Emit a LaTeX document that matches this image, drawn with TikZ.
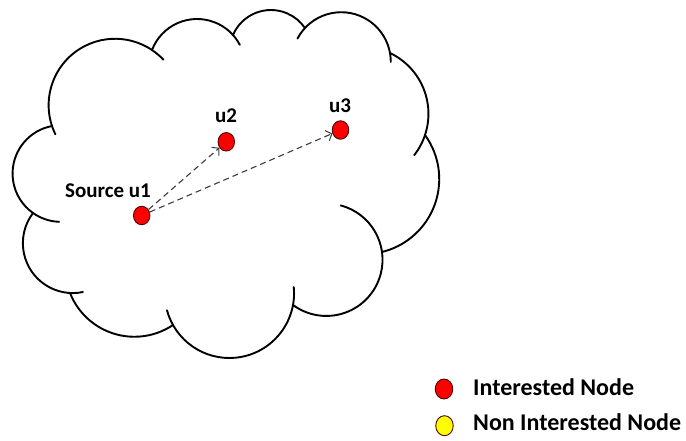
\documentclass[tikz,border=0pt]{standalone}
\usepackage{fontspec}
\setmainfont{Carlito}
\usetikzlibrary{arrows.meta,shapes.geometric}

\definecolor{nodered}{RGB}{255,0,0}
\definecolor{nodeedge}{RGB}{80,0,0}
\definecolor{nodeyellow}{RGB}{255,255,0}
\definecolor{linkgray}{RGB}{60,60,60}

\tikzset{
  cloudline/.style={draw=black, line width=1.9pt, line cap=round},
  dot/.style={ellipse, draw=nodeedge, line width=0.9pt, inner sep=0pt,
              minimum width=16.5, minimum height=18.5},
  rednode/.style={dot, fill=nodered},
  yellownode/.style={dot, fill=nodeyellow},
  lbl/.style={inner sep=0pt, font=\fontsize{21}{25}\selectfont\bfseries},
  lgd/.style={inner sep=0pt, font=\fontsize{24}{28}\selectfont\bfseries},
  link/.style={draw=linkgray, line width=1.1pt, dash pattern=on 6pt off 4pt,
               -{Straight Barb[length=5pt,width=11pt,line width=1pt]}}
}

% One bulge of the cloud: circular arc from (#1,#2) through (#3,#4) to (#5,#6),
% prolonged by #7 units before its start and #8 units after its end.
\newcommand\cloudlobe[8]{%
  \pgfmathsetmacro\lobeAx{#1/100}\pgfmathsetmacro\lobeAy{#2/100}%
  \pgfmathsetmacro\lobePx{#3/100}\pgfmathsetmacro\lobePy{#4/100}%
  \pgfmathsetmacro\lobeBx{#5/100}\pgfmathsetmacro\lobeBy{#6/100}%
  \pgfmathsetmacro\lobeD{2*(\lobeAx*(\lobePy-\lobeBy)+\lobePx*(\lobeBy-\lobeAy)+\lobeBx*(\lobeAy-\lobePy))}%
  \pgfmathsetmacro\lobeSa{\lobeAx*\lobeAx+\lobeAy*\lobeAy}%
  \pgfmathsetmacro\lobeSp{\lobePx*\lobePx+\lobePy*\lobePy}%
  \pgfmathsetmacro\lobeSb{\lobeBx*\lobeBx+\lobeBy*\lobeBy}%
  \pgfmathsetmacro\lobeUx{(\lobeSa*(\lobePy-\lobeBy)+\lobeSp*(\lobeBy-\lobeAy)+\lobeSb*(\lobeAy-\lobePy))/\lobeD}%
  \pgfmathsetmacro\lobeUy{(\lobeSa*(\lobeBx-\lobePx)+\lobeSp*(\lobeAx-\lobeBx)+\lobeSb*(\lobePx-\lobeAx))/\lobeD}%
  \pgfmathsetmacro\lobeCx{100*\lobeUx}\pgfmathsetmacro\lobeCy{100*\lobeUy}%
  \pgfmathsetmacro\lobeR{100*veclen(\lobeAx-\lobeUx,\lobeAy-\lobeUy)}%
  \pgfmathsetmacro\lobeTA{atan2(\lobeAy-\lobeUy,\lobeAx-\lobeUx)}%
  \pgfmathsetmacro\lobeTP{atan2(\lobePy-\lobeUy,\lobePx-\lobeUx)}%
  \pgfmathsetmacro\lobeTB{atan2(\lobeBy-\lobeUy,\lobeBx-\lobeUx)}%
  \pgfmathsetmacro\lobeDP{Mod(\lobeTP-\lobeTA,360)}%
  \pgfmathsetmacro\lobeDB{Mod(\lobeTB-\lobeTA,360)}%
  \pgfmathsetmacro\lobeSign{\lobeDP<\lobeDB ? 1 : -1}%
  \pgfmathsetmacro\lobeSweep{\lobeSign>0 ? \lobeDB : 360-\lobeDB}%
  \pgfmathsetmacro\lobeExA{deg(#7/\lobeR)}%
  \pgfmathsetmacro\lobeExB{deg(#8/\lobeR)}%
  \pgfmathsetmacro\lobeStart{\lobeTA-\lobeSign*\lobeExA}%
  \pgfmathsetmacro\lobeDelta{\lobeSign*(\lobeSweep+\lobeExA+\lobeExB)}%
  \draw[cloudline] ([shift={(\lobeStart:\lobeR)}]\lobeCx,\lobeCy)
    arc[start angle=\lobeStart, delta angle=\lobeDelta, radius=\lobeR];%
}

\begin{document}
\begin{tikzpicture}[x=1pt,y=-1pt]
  \fill[white] (0,0) rectangle (686,441);
  \useasboundingbox (0,0) rectangle (686,441);

  % cloud outline, clockwise from the upper left
  \cloudlobe{52}{126}{83}{47}{152}{50}{9}{15}
  \cloudlobe{152}{50}{197}{19}{233}{35}{0}{12}
  \cloudlobe{233}{35}{270}{10}{305}{28}{0}{0}
  \cloudlobe{305}{28}{350}{13}{390}{53}{13}{9}
  \cloudlobe{390}{53}{427}{100}{425}{135}{0}{23}
  \cloudlobe{425}{135}{439}{185}{382}{252}{0}{0}
  \cloudlobe{382}{252}{347}{312}{293}{305}{66}{0}
  \cloudlobe{293}{305}{230}{358}{173}{325}{18}{16}
  \cloudlobe{173}{325}{115}{334}{70}{293}{0}{0}
  \cloudlobe{70}{293}{23}{247}{33}{213}{13}{0}
  \cloudlobe{33}{213}{13}{180}{52}{126}{28}{0}

  % nodes
  \node[rednode] (u1) at (141.7,215.5) {};
  \node[rednode] (u2) at (226.3,141.8) {};
  \node[rednode] (u3) at (340.5,130) {};

  \node[lbl, anchor=base] (u1label) at (108,197) {Source u1};
  \node[lbl, anchor=base] (u2label) at (226,123) {u2};
  \node[lbl, anchor=base] (u3label) at (340,113) {u3};

  % messages from the source
  \draw[link] (u1) -- (u2);
  \draw[link] (u1) -- (u3);

  % legend
  \node[rednode, minimum width=17.5, minimum height=20] (keyred) at (444,389) {};
  \node[yellownode, minimum width=17.5, minimum height=20] (keyyellow) at (444.5,425.7) {};
  \node[lgd, anchor=base west] (keyredtext) at (473,395) {Interested Node};
  \node[lgd, anchor=base west] (keyyellowtext) at (473,430) {Non Interested Node};
\end{tikzpicture}
\end{document}
